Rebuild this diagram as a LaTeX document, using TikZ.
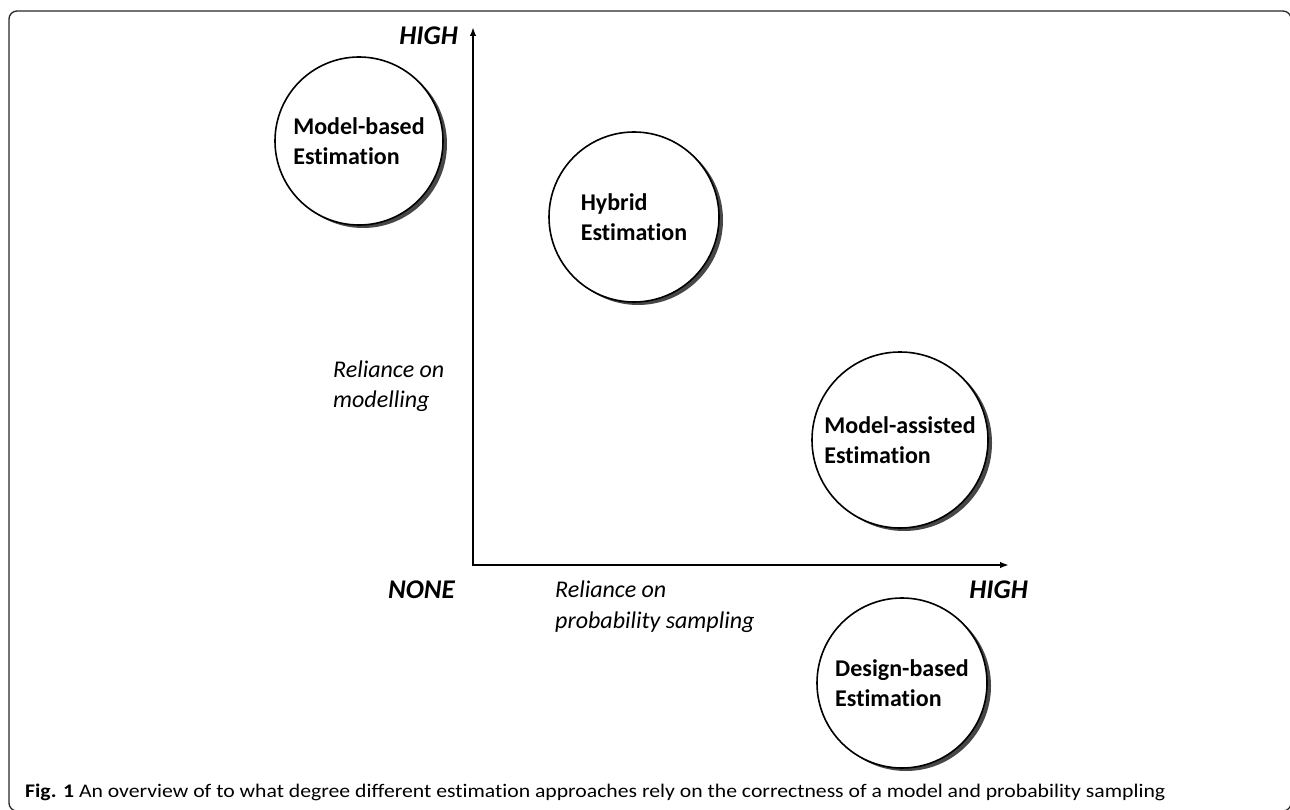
\documentclass[tikz,border=0pt]{standalone}
\usepackage{fontspec}
\usepackage{graphicx}
\setmainfont{Carlito}[Ligatures=NoCommon]
\usetikzlibrary{arrows.meta,shadows}
\begin{document}
\begin{tikzpicture}[x=1pt,y=-1pt,
  est/.style={circle, draw=black, line width=1.6pt, fill=white, inner sep=0pt,
    align=left, font=\fontsize{24}{30}\selectfont\bfseries,
    drop shadow={shadow xshift=4pt, shadow yshift=-3pt, fill=black!72, opacity=1}},
  lab/.style={font=\fontsize{27}{30}\selectfont\bfseries\itshape, inner sep=0pt},
  axlab/.style={font=\fontsize{24}{30}\selectfont\itshape, inner sep=0pt},
  axis/.style={line width=1.8pt, {Latex[length=9pt,width=6.5pt]}-{Latex[length=9pt,width=6.5pt]}},
  frame/.style={line width=1.3pt, black!85, rounded corners=8pt}]
\useasboundingbox (0,0) rectangle (1290,810);
\draw[frame] (9,11) rectangle (1291,811);

% axes
\coordinate (O) at (473,565);
\coordinate (yt) at (473,27);
\coordinate (xt) at (1009,565);
\draw[axis] (yt) -- (O) -- (xt);

% estimation circles
\node[est, minimum size=168pt] (mb) at (359,141) {Model-based\\Estimation};
\node[est, minimum size=170pt] (hy) at (634,217) {Hybrid\\Estimation};
\node[est, minimum size=176pt] (ma) at (900,440) {Model-assisted\\Estimation};
\node[est, minimum size=170pt] (db) at (902,683) {Design-based\\Estimation};

% axis end labels
\node[lab, anchor=base east] (hightop) at (458,45) {HIGH};
\node[lab, anchor=base east] (none) at (455,598) {NONE};
\node[lab, anchor=base east] (highx) at (1028,598) {HIGH};

% axis titles
\node[axlab, anchor=base west] (rm1) at (333,377) {Reliance on};
\node[axlab, anchor=base west] (rm2) at (333,407) {modelling};
\node[axlab, anchor=base west] (rp1) at (555,597) {Reliance on};
\node[axlab, anchor=base west] (rp2) at (555,628) {probability sampling};

% caption
\node[anchor=base west, inner sep=0pt] (cap) at (25,797)
  {\resizebox{1140pt}{13.5pt}{\fontsize{19}{22}\selectfont\textbf{Fig. 1} An overview of to what degree different estimation approaches rely on the correctness of a model and probability sampling}};
\end{tikzpicture}
\end{document}
